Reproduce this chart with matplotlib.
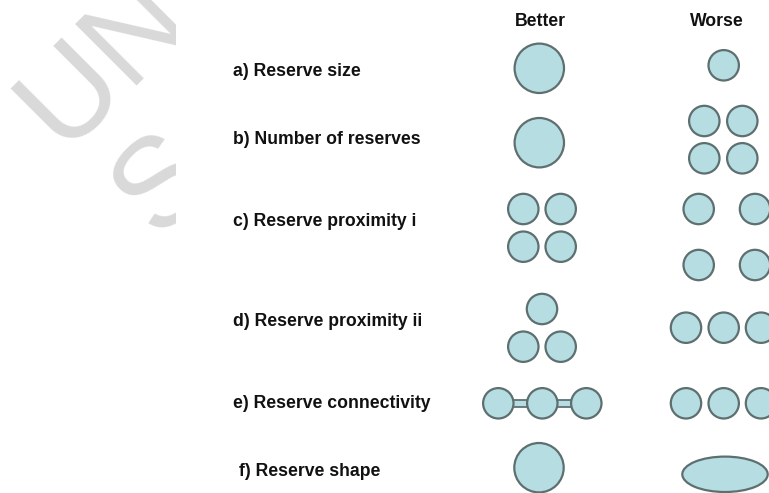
import matplotlib
matplotlib.use("Agg")
import numpy as np
import matplotlib.pyplot as plt
from matplotlib.patches import Circle, Ellipse, Rectangle
from matplotlib.textpath import TextPath
from matplotlib.font_manager import FontProperties

# ---- content ----
column_headers = ["Better", "Worse"]
row_labels = ["a) Reserve size", "b) Number of reserves", "c) Reserve proximity i",
              "d) Reserve proximity ii", "e) Reserve connectivity", "f) Reserve shape"]
label_x = [233, 233, 233, 233, 233, 239]
label_y = [71.7, 140, 221.7, 321.7, 404, 471.7]

# circles: (x, y, r) in pixel space
better_circles = [
    [(539.3, 68.3, 25.5)],
    [(539.3, 142.7, 25.5)],
    [(523.3, 209, 16), (560.7, 209, 16), (523.3, 246.7, 16), (560.7, 246.7, 16)],
    [(542, 309, 16), (523.3, 346.7, 16), (560.7, 346.7, 16)],
    [(498.3, 403.3, 16), (542.3, 403.3, 16), (586.3, 403.3, 16)],
    [(539, 467.7, 25.5)],
]
worse_circles = [
    [(723.7, 65.3, 16)],
    [(704.3, 121, 16), (742.3, 121, 16), (704.3, 158.3, 16), (742.3, 158.3, 16)],
    [(698.7, 209, 16), (755, 209, 16), (698.7, 265, 16), (755, 265, 16)],
    [(686, 327.7, 16), (723.7, 327.7, 16), (761, 327.7, 16)],
    [(686, 403.3, 16), (723.7, 403.3, 16), (761, 403.3, 16)],
    [],
]
connected_row = 4
worse_ellipse = (725, 474.3, 87, 37)
header_x = [540.5, 717.3]
header_y = 21.7

# watermark pieces: text and the image point where its left-most ink sits
watermark_texts = ["UN", "S"]
watermark_leftmost = [(8, 82), (110, 177)]

fill = "#b6dde1"
edge = "#5e6f70"
lw = 1.6

fig = plt.figure(figsize=(7.69, 4.93), dpi=100)
ax = fig.add_axes([0, 0, 1, 1])
ax.set_xlim(0, 769)
ax.set_ylim(493, 0)
ax.axis("off")

# watermark (clipped by the white panel of the diagram)
wm = "#d9d9d9"
em_px = 127.0
fp = FontProperties(family="Liberation Sans")
c = s = np.sqrt(0.5)
R = np.array([[c, -s], [-s, -c]])  # text coords -> image coords (rotated 45 deg, y down)
for txt, (lx, ly) in zip(watermark_texts, watermark_leftmost):
    tp = TextPath((0, 0), txt, size=em_px, prop=fp)
    v = tp.vertices
    img = v @ R.T
    i = np.argmin(img[:, 0])
    t = np.array([lx, ly]) - img[i]
    ax.text(t[0], t[1], txt, rotation=45, rotation_mode="anchor", ha="left", va="baseline",
            fontsize=em_px * 72 / 100, color=wm, family="Liberation Sans", zorder=0)
ax.add_patch(Rectangle((176, 5), 600, 500, facecolor="white", edgecolor="none", zorder=1))

font = dict(family="Liberation Sans", fontweight="bold", fontsize=12.7, color="#111111")
for x, t in zip(header_x, column_headers):
    ax.text(x, header_y, t, ha="center", va="center", zorder=5, **font)
for x, y, t in zip(label_x, label_y, row_labels):
    ax.text(x, y, t, ha="left", va="center", zorder=5, **font)

def draw_circles(lst):
    for (x, y, r) in lst:
        ax.add_patch(Circle((x, y), r - 0.8, facecolor=fill, edgecolor=edge, lw=lw, zorder=4))

for i, lst in enumerate(better_circles):
    draw_circles(lst)
    if i == connected_row:
        for (x1, y1, r1), (x2, y2, r2) in zip(lst[:-1], lst[1:]):
            ax.add_patch(Rectangle((x1, y1 - 3.5), x2 - x1, 7, facecolor=fill,
                                   edgecolor=edge, lw=lw * 0.8, zorder=3))
for lst in worse_circles:
    draw_circles(lst)
ex, ey, ew, eh = worse_ellipse
ax.add_patch(Ellipse((ex, ey), ew - 1.6, eh - 1.6, facecolor=fill, edgecolor=edge, lw=lw, zorder=4))

fig.savefig("out.png", dpi=100)
